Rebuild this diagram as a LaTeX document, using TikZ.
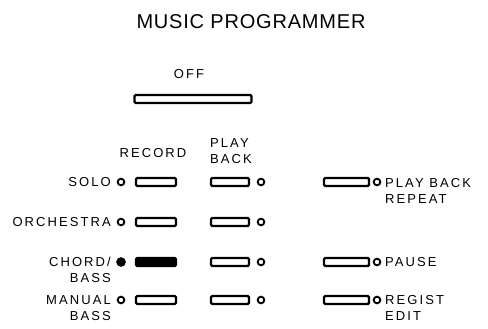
\documentclass[tikz,border=0pt]{standalone}
\usepackage{fontspec}
\newfontfamily\panelfont[LetterSpace=16]{Liberation Sans}
\newfontfamily\titlefont[LetterSpace=4]{Liberation Sans}
\usetikzlibrary{positioning}

\tikzset{
  key/.style={draw, line width=2.4pt, fill=white, rounded corners=1.2pt,
              minimum height=8pt, inner sep=0pt},
  keyon/.style={key, fill=black},
  lamp/.style={circle, draw, line width=1.9pt, minimum size=6.6pt, inner sep=0pt},
  lampon/.style={lamp, fill=black, minimum size=7.6pt},
  caption/.style={font=\panelfont\fontsize{13}{16}\selectfont, inner sep=0pt},
}

\begin{document}
\begin{tikzpicture}[x=1pt, y=-1pt]
    \useasboundingbox (0,0) rectangle (488,329);

    % Title
    \node[font=\titlefont\fontsize{20}{24}\selectfont, inner sep=0pt] (title) at (251,22) {MUSIC PROGRAMMER};

    % OFF key
    \node[caption] (offlbl) at (189,74) {OFF};
    \node[key, minimum width=117pt] (off) at (193,99) {};

    % Column heads
    \node[caption] (reclbl) at (153,153) {RECORD};
    \node[caption, anchor=north west, align=left] (playlbl) at (210,138) {PLAY\\BACK};

    % Row 1: SOLO / PLAY BACK REPEAT
    \node[caption, anchor=east] (solo) at (111,182) {SOLO};
    \node[lamp] (sololed) at (121,182) {};
    \node[key, minimum width=40pt] (solorec) at (156,182) {};
    \node[key, minimum width=38pt] (soloplay) at (230,182) {};
    \node[lamp] (soloplayled) at (261,182) {};
    \node[key, minimum width=45pt] (repeatkey) at (346.5,182) {};
    \node[lamp] (repeatled) at (377,182) {};
    \node[caption, anchor=north west, align=left] (repeatlbl) at (385,178) {PLAY BACK\\REPEAT};

    % Row 2: ORCHESTRA
    \node[caption, anchor=east] (orch) at (111,222) {ORCHESTRA};
    \node[lamp] (orchled) at (121,222) {};
    \node[key, minimum width=40pt] (orchrec) at (156,222) {};
    \node[key, minimum width=38pt] (orchplay) at (230,222) {};
    \node[lamp] (orchplayled) at (261,222) {};

    % Row 3: CHORD/BASS (recording) / PAUSE
    \node[caption, anchor=north east, align=right] (chord) at (111,257) {CHORD/\\BASS};
    \node[lampon] (chordled) at (121,262) {};
    \node[keyon, minimum width=40pt] (chordrec) at (156,262) {};
    \node[key, minimum width=38pt] (chordplay) at (230,262) {};
    \node[lamp] (chordplayled) at (261,262) {};
    \node[key, minimum width=45pt] (pausekey) at (346.5,262) {};
    \node[lamp] (pauseled) at (377,262) {};
    \node[caption, anchor=west] (pauselbl) at (385,262) {PAUSE};

    % Row 4: MANUAL BASS / REGIST EDIT
    \node[caption, anchor=north east, align=right] (manual) at (111,295) {MANUAL\\BASS};
    \node[lamp] (manualled) at (121,300) {};
    \node[key, minimum width=40pt] (manualrec) at (156,300) {};
    \node[key, minimum width=38pt] (manualplay) at (230,300) {};
    \node[lamp] (manualplayled) at (261,300) {};
    \node[key, minimum width=45pt] (registkey) at (346.5,300) {};
    \node[lamp] (registled) at (377,300) {};
    \node[caption, anchor=north west, align=left] (registlbl) at (385,295) {REGIST\\EDIT};
\end{tikzpicture}
\end{document}
